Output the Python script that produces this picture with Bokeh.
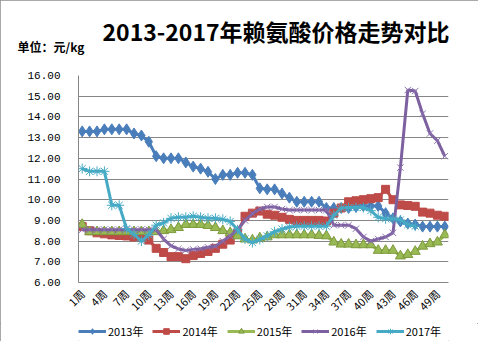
import math
from bokeh.plotting import figure
from bokeh.layouts import column
from bokeh.models import FixedTicker, Legend, LegendItem, Title, Range1d, PrintfTickFormatter
from bokeh.embed import file_html
from bokeh.resources import INLINE

# ---- data ----
weeks = [1, 2, 3, 4, 5, 6, 7, 8, 9, 10, 11, 12, 13, 14, 15, 16, 17, 18, 19, 20,
         21, 22, 23, 24, 25, 26, 27, 28, 29, 30, 31, 32, 33, 34, 35, 36, 37, 38, 39, 40,
         41, 42, 43, 44, 45, 46, 47, 48, 49, 50]
weeks_2017 = weeks[:46]

tick_weeks = [1, 4, 7, 10, 13, 16, 19, 22, 25, 28, 31, 34, 37, 40, 43, 46, 49]
tick_labels = ["1周", "4周", "7周", "10周", "13周", "16周", "19周", "22周", "25周",
               "28周", "31周", "34周", "37周", "40周", "43周", "46周", "49周"]
y_ticks = [6, 7, 8, 9, 10, 11, 12, 13, 14, 15, 16]

price_2013 = [13.3, 13.3, 13.3, 13.4, 13.4, 13.4, 13.4, 13.2, 13.1, 12.8,
              12.1, 12.0, 12.0, 12.0, 11.8, 11.6, 11.5, 11.35, 11.0, 11.2,
              11.2, 11.3, 11.3, 11.2, 10.55, 10.5, 10.5, 10.3, 10.1, 9.9,
              9.9, 9.9, 9.9, 9.6, 9.6, 9.6, 9.6, 9.65, 9.7, 9.7,
              9.7, 9.35, 9.1, 8.95, 8.85, 8.8, 8.7, 8.7, 8.7, 8.7]
price_2014 = [8.7, 8.5, 8.4, 8.35, 8.3, 8.27, 8.25, 8.2, 8.17, 8.05,
              7.65, 7.45, 7.25, 7.25, 7.15, 7.3, 7.4, 7.5, 7.65, 7.85,
              8.05, 8.4, 9.2, 9.35, 9.45, 9.3, 9.25, 9.15, 9.05, 9.0,
              9.0, 9.0, 9.0, 8.97, 9.35, 9.6, 9.9, 9.95, 10.0, 10.05,
              10.1, 10.5, 10.0, 9.75, 9.72, 9.68, 9.4, 9.35, 9.25, 9.2]
price_2015 = [8.8, 8.45, 8.45, 8.45, 8.45, 8.45, 8.45, 8.45, 8.45, 8.45,
              8.45, 8.5, 8.55, 8.65, 8.8, 8.8, 8.8, 8.75, 8.65, 8.5,
              8.4, 8.25, 8.1, 8.05, 8.15, 8.2, 8.3, 8.3, 8.3, 8.3,
              8.3, 8.3, 8.27, 8.25, 7.95, 7.85, 7.85, 7.82, 7.82, 7.82,
              7.55, 7.55, 7.55, 7.28, 7.35, 7.5, 7.75, 7.87, 7.95, 8.3]
price_2016 = [8.55, 8.55, 8.55, 8.55, 8.55, 8.55, 8.55, 8.55, 8.55, 8.55,
              8.55, 8.1, 7.77, 7.62, 7.55, 7.6, 7.63, 7.7, 7.75, 8.0,
              8.25, 8.55, 9.0, 9.33, 9.55, 9.65, 9.65, 9.55, 9.5, 9.5,
              9.5, 9.5, 9.5, 9.5, 8.77, 8.77, 8.77, 8.6, 8.2, 8.0,
              8.1, 8.2, 8.4, 11.55, 15.3, 15.25, 14.15, 13.2, 12.85, 12.1]
price_2017 = [11.5, 11.37, 11.37, 11.37, 9.73, 9.73, 8.6, 8.33, 8.0, 8.3,
              8.77, 8.88, 9.1, 9.15, 9.15, 9.2, 9.15, 9.1, 9.1, 9.05,
              8.95, 8.55, 8.1, 7.93, 8.08, 8.25, 8.45, 8.58, 8.68, 8.72,
              8.72, 8.72, 8.72, 8.72, 9.25, 9.6, 9.62, 9.62, 9.62, 9.47,
              9.15, 9.08, 9.08, 9.02, 8.8, 8.72]

series_names = ["2013年", "2014年", "2015年", "2016年", "2017年"]
chart_title = "2013-2017年赖氨酸价格走势对比"
unit_text = "单位：元/kg"

W = 478
H_MAIN, H_LEG = 323, 18

# ---- main chart ----
p = figure(width=W, height=H_MAIN, output_backend="svg", toolbar_location=None,
           x_range=Range1d(0.5, 50.5), y_range=Range1d(6, 16),
           min_border_left=78, min_border_right=30, min_border_top=75, min_border_bottom=41)
p.outline_line_color = None
p.background_fill_color = "white"

grid_col = "#868686"
p.xgrid.grid_line_color = None
p.ygrid.ticker = FixedTicker(ticks=y_ticks)
p.ygrid.grid_line_color = grid_col
p.ygrid.grid_line_width = 1

p.yaxis.ticker = FixedTicker(ticks=y_ticks)
p.yaxis.formatter = PrintfTickFormatter(format="%.2f")
p.yaxis.major_tick_line_color = None
p.yaxis.minor_tick_line_color = None
p.yaxis.axis_line_color = grid_col
p.yaxis.major_label_standoff = 12
p.yaxis.major_label_text_font = "Liberation Mono"
p.yaxis.major_label_text_font_size = "11px"
p.yaxis.major_label_text_color = "black"

p.xaxis.ticker = FixedTicker(ticks=tick_weeks)
p.xaxis.major_label_overrides = dict(zip(tick_weeks, tick_labels))
p.xaxis.major_label_orientation = math.pi / 4
p.xaxis.major_tick_line_color = None
p.xaxis.minor_tick_line_color = None
p.xaxis.axis_line_color = grid_col
p.xaxis.major_label_standoff = 3
p.xaxis.major_label_text_font = "Noto Sans CJK SC"
p.xaxis.major_label_text_font_size = "11px"
p.xaxis.major_label_text_color = "black"

specs = [
    (weeks, price_2013, "#4A7EBB", "diamond", 11, "#4A7EBB", "#4A7EBB"),
    (weeks, price_2014, "#BE4B48", "square", 8, "#BE4B48", "#BE4B48"),
    (weeks, price_2015, "#98B954", "triangle", 10, "#98B954", "#7E9A3C"),
    (weeks, price_2016, "#7D60A0", "x", 9, None, "#8C72B0"),
    (weeks_2017, price_2017, "#46AAC5", "asterisk", 10, None, "#46AAC5"),
]
for xs, ys, col, mk, sz, fill, lc in specs:
    p.line(xs, ys, line_color=col, line_width=3)
    p.scatter(xs, ys, marker=mk, size=sz, fill_color=fill, line_color=lc, line_width=1)

# spacer, then unit text, then main title (stacked outward from the plot frame)
p.add_layout(Title(text=" ", text_font_size="10px", standoff=8), "above")
p.add_layout(Title(text=unit_text, align="left", offset=-61, standoff=0,
                   text_font="Noto Sans CJK SC", text_font_style="bold",
                   text_font_size="12px", text_color="black"), "above")
p.add_layout(Title(text=chart_title, align="left", offset=24, standoff=-24,
                   text_font="Noto Sans CJK SC", text_font_style="bold",
                   text_font_size="23px", text_color="black"), "above")

# ---- legend strip (proxy renderers kept outside the visible range) ----
leg = figure(width=W, height=H_LEG, output_backend="svg", toolbar_location=None,
             x_range=Range1d(0, 1), y_range=Range1d(0, 1),
             min_border_left=0, min_border_right=0, min_border_top=0, min_border_bottom=0)
leg.xaxis.visible = False
leg.yaxis.visible = False
leg.xgrid.grid_line_color = None
leg.ygrid.grid_line_color = None
leg.outline_line_color = None
leg.background_fill_color = "white"

items = []
for (xs, ys, col, mk, sz, fill, lc), name in zip(specs, series_names):
    r_line = leg.line(x=[-10, -9], y=[-10, -10], line_color=col, line_width=3)
    r_mk = leg.scatter(x=[-10], y=[-10], marker=mk, size=sz, fill_color=fill,
                       line_color=lc, line_width=1)
    items.append(LegendItem(label=name, renderers=[r_line, r_mk]))
legend = Legend(items=items, orientation="horizontal", location=(0, 2),
                glyph_width=28, glyph_height=14, label_height=14, label_standoff=2, spacing=9,
                padding=0, margin=0, border_line_color=None, background_fill_alpha=0,
                label_text_font="Noto Sans CJK SC", label_text_font_size="11px",
                label_text_color="black")
leg.add_layout(legend)

layout = column(p, leg, spacing=0)
layout.styles = {"outline": "1px solid #8c8c8c", "outline-offset": "-1px"}

open("out.html", "w").write(file_html(layout, INLINE))
